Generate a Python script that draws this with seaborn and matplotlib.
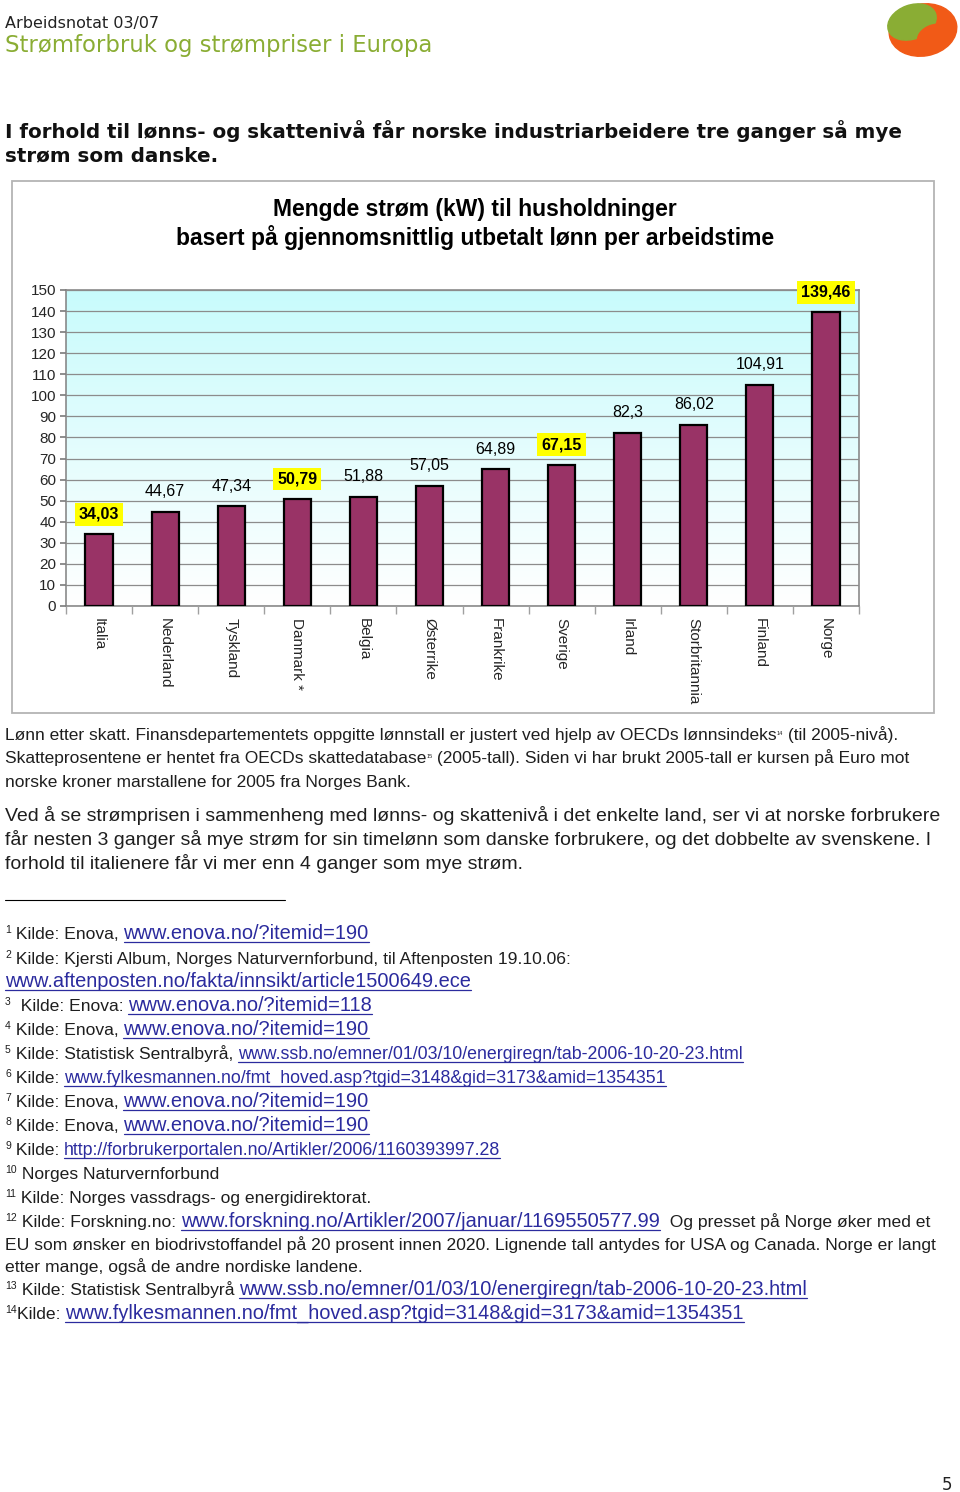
import matplotlib
matplotlib.use('Agg')
import numpy as np
import matplotlib.pyplot as plt
import seaborn as sns
from matplotlib.colors import LinearSegmentedColormap
from matplotlib.patches import Rectangle, Ellipse


# Chart data
countries = ['Italia', 'Nederland', 'Tyskland', 'Danmark *', 'Belgia', 'Østerrike',
             'Frankrike', 'Sverige', 'Irland', 'Storbritannia', 'Finland', 'Norge']
kw_per_hour = [34.03, 44.67, 47.34, 50.79, 51.88, 57.05,
               64.89, 67.15, 82.3, 86.02, 104.91, 139.46]
highlighted = ['Italia', 'Danmark *', 'Sverige', 'Norge']
y_ticks = list(range(0, 151, 10))

chart_title = ['Mengde strøm (kW) til husholdninger',
               'basert på gjennomsnittlig utbetalt lønn per arbeidstime']

# Page text
para1 = ['Lønn etter skatt. Finansdepartementets oppgitte lønnstall er justert ved hjelp av OECDs lønnsindeks',
         'Skatteprosentene er hentet fra OECDs skattedatabase',
         'norske kroner marstallene for 2005 fra Norges Bank.']
para1_tail = [' (til 2005-nivå).', ' (2005-tall). Siden vi har brukt 2005-tall er kursen på Euro mot', '']
para2 = ['Ved å se strømprisen i sammenheng med lønns- og skattenivå i det enkelte land, ser vi at norske forbrukere',
         'får nesten 3 ganger så mye strøm for sin timelønn som danske forbrukere, og det dobbelte av svenskene. I',
         'forhold til italienere får vi mer enn 4 ganger som mye strøm.']

url_ssb = 'www.ssb.no/emner/01/03/10/energiregn/tab-2006-10-20-23.html'
url_fylke = 'www.fylkesmannen.no/fmt_hoved.asp?tgid=3148&gid=3173&amid=1354351'
footnotes = [
    [('1', 'sup'), (' Kilde: Enova, ', 'txt'), ('www.enova.no/?itemid=190', 'link')],
    [('2', 'sup'), (' Kilde: Kjersti Album, Norges Naturvernforbund, til Aftenposten 19.10.06:', 'txt')],
    [('www.aftenposten.no/fakta/innsikt/article1500649.ece', 'link')],
    [('3', 'sup'), ('  Kilde: Enova: ', 'txt'), ('www.enova.no/?itemid=118', 'link')],
    [('4', 'sup'), (' Kilde: Enova, ', 'txt'), ('www.enova.no/?itemid=190', 'link')],
    [('5', 'sup'), (' Kilde: Statistisk Sentralbyrå, ', 'txt'), (url_ssb, 'links')],
    [('6', 'sup'), (' Kilde: ', 'txt'), (url_fylke, 'links')],
    [('7', 'sup'), (' Kilde: Enova, ', 'txt'), ('www.enova.no/?itemid=190', 'link')],
    [('8', 'sup'), (' Kilde: Enova, ', 'txt'), ('www.enova.no/?itemid=190', 'link')],
    [('9', 'sup'), (' Kilde: ', 'txt'), ('http://forbrukerportalen.no/Artikler/2006/1160393997.28', 'links')],
    [('10', 'sup'), (' Norges Naturvernforbund', 'txt')],
    [('11', 'sup'), (' Kilde: Norges vassdrags- og energidirektorat.', 'txt')],
    [('12', 'sup'), (' Kilde: Forskning.no: ', 'txt'),
     ('www.forskning.no/Artikler/2007/januar/1169550577.99', 'link'),
     ('  Og presset på Norge øker med et', 'txt')],
    [('EU som ønsker en biodrivstoffandel på 20 prosent innen 2020. Lignende tall antydes for USA og Canada. Norge er langt', 'txt')],
    [('etter mange, også de andre nordiske landene.', 'txt')],
    [('13', 'sup'), (' Kilde: Statistisk Sentralbyrå ', 'txt'), (url_ssb, 'link')],
    [('14', 'sup'), ('Kilde: ', 'txt'), (url_fylke, 'link')],
]
footnote_baselines = [939, 964, 987, 1011, 1035, 1059, 1083, 1107, 1131, 1155,
                      1179, 1203, 1227, 1250, 1272, 1295, 1319]

BODY = 'Liberation Sans'
HEAD = 'DejaVu Sans'
TEXT_COL = '#1e1e1e'
LINK_COL = '#2b2b9e'
GREEN = '#8aad34'
ORANGE = '#f15a17'

STYLES = {
    'txt': dict(size=12.6, color=TEXT_COL, dy=0, underline=False),
    'sup': dict(size=7.5, color=TEXT_COL, dy=-6, underline=False),
    'link': dict(size=14.4, color=LINK_COL, dy=0, underline=True),
    'links': dict(size=12.8, color=LINK_COL, dy=0, underline=True),
    'para1': dict(size=12.5, color=TEXT_COL, dy=0, underline=False),
    'tiny': dict(size=4, color=TEXT_COL, dy=-5, underline=False),
    'para2': dict(size=14.0, color=TEXT_COL, dy=0, underline=False),
}


sns.set_theme(style='white')
plt.rcParams['font.family'] = [BODY, 'DejaVu Sans']

fig = plt.figure(figsize=(9.6, 14.92), dpi=100)
fig.patch.set_facecolor('white')
page = fig.add_axes([0, 0, 1, 1], zorder=0)
page.set_xlim(0, 960)
page.set_ylim(1492, 0)
page.axis('off')
renderer = fig.canvas.get_renderer()


def put_runs(x, y, runs):
    # place text pieces one after another on a shared baseline
    for text, kind in runs:
        st = STYLES[kind]
        t = page.text(x, y + st['dy'], text, fontsize=st['size'], color=st['color'],
                      family=BODY, va='baseline', ha='left')
        w = t.get_window_extent(renderer).width
        if st['underline']:
            page.plot([x, x + w], [y + 2.5, y + 2.5], color=st['color'], lw=0.9)
        x += w
    return x


# Header
page.text(5, 28, 'Arbeidsnotat 03/07', fontsize=11.5, family=HEAD, color='#222222', va='baseline')
page.text(5, 52, 'Strømforbruk og strømpriser i Europa', fontsize=16.4, family=HEAD,
          color=GREEN, va='baseline')
page.text(5, 138, 'I forhold til lønns- og skattenivå får norske industriarbeidere tre ganger så mye',
          fontsize=14.3, family=HEAD, fontweight='bold', color='#111111', va='baseline')
page.text(5, 161, 'strøm som danske.', fontsize=14.3, family=HEAD, fontweight='bold',
          color='#111111', va='baseline')

# Logo
page.add_patch(Ellipse((923, 30), 68, 52, angle=-10, color=ORANGE, zorder=2))
page.add_patch(Ellipse((912, 22), 50, 34, angle=-20, color=GREEN, zorder=3))
page.add_patch(Ellipse((934, 37), 34, 24, angle=-20, color=ORANGE, zorder=3))

# Chart frame
page.add_patch(Rectangle((12, 181), 922, 532, facecolor='white', edgecolor='#b4b4b4', lw=1.3))
for i, line in enumerate(chart_title):
    page.text(475, 216 + 29 * i, line, fontsize=16.5, fontweight='bold', family=BODY,
              ha='center', va='baseline', color='black')

# Chart
ax = fig.add_axes([66 / 960, 1 - 606 / 1492, 793 / 960, 316 / 1492], zorder=1)
ax.patch.set_alpha(0)
grad = LinearSegmentedColormap.from_list('sky', ['#ffffff', '#c8fbfc'])
ax.imshow(np.linspace(0, 1, 256).reshape(-1, 1), cmap=grad, origin='lower', aspect='auto',
          extent=(-0.5, len(countries) - 0.5, 0, 150), zorder=0)

sns.barplot(x=countries, y=kw_per_hour, color='#993366', saturation=1, width=0.41,
            edgecolor='black', linewidth=1.6, ax=ax, zorder=3)

ax.set_xlim(-0.5, len(countries) - 0.5)
ax.set_ylim(0, 150)
ax.set_yticks(y_ticks)
ax.yaxis.grid(True, color='#8c8c8c', lw=0.9, zorder=1)
ax.set_axisbelow(False)
for gl in ax.get_ygridlines():
    gl.set_zorder(1)
for sp in ax.spines.values():
    sp.set_color('#808080')
    sp.set_linewidth(1.1)
    sp.set_visible(True)

ax.tick_params(axis='y', length=4, color='#808080', labelsize=11, pad=3, left=True)
ax.tick_params(axis='x', length=0, pad=9, labelsize=11)
ax.set_xticks(np.arange(-0.5, len(countries), 1), minor=True)
ax.tick_params(axis='x', which='minor', length=6, color='#a0a0a0', bottom=True)
ax.set_xticks(range(len(countries)))
ax.set_xticklabels(countries, rotation=270, ha='center', va='top')
ax.set_xlabel('')
ax.set_ylabel('')

labels = [('%g' % v).replace('.', ',') for v in kw_per_hour]
texts = ax.bar_label(ax.containers[0], labels=labels, padding=9, fontsize=11.5, color='black')
for name, t in zip(countries, texts):
    t.set_zorder(5)
    if name in highlighted:
        t.set_fontweight('bold')
        t.set_bbox(dict(boxstyle='square,pad=0.25', facecolor='#ffff00', edgecolor='none'))

# Text below chart
for i, line in enumerate(para1):
    y = 740 + 23.5 * i
    x = put_runs(5, y, [(line, 'para1')])
    if para1_tail[i]:
        x = put_runs(x, y, [('1' + str(4 + i), 'tiny')])
        put_runs(x, y, [(para1_tail[i], 'para1')])

for i, line in enumerate(para2):
    put_runs(5, 821 + 24 * i, [(line, 'para2')])

page.plot([5, 285], [900, 900], color='black', lw=0.8)

for runs, y in zip(footnotes, footnote_baselines):
    put_runs(5, y, runs)

page.text(947, 1490, '5', fontsize=12, family=HEAD, ha='center', va='baseline', color='#222222')

fig.savefig('out.png', dpi=100)
